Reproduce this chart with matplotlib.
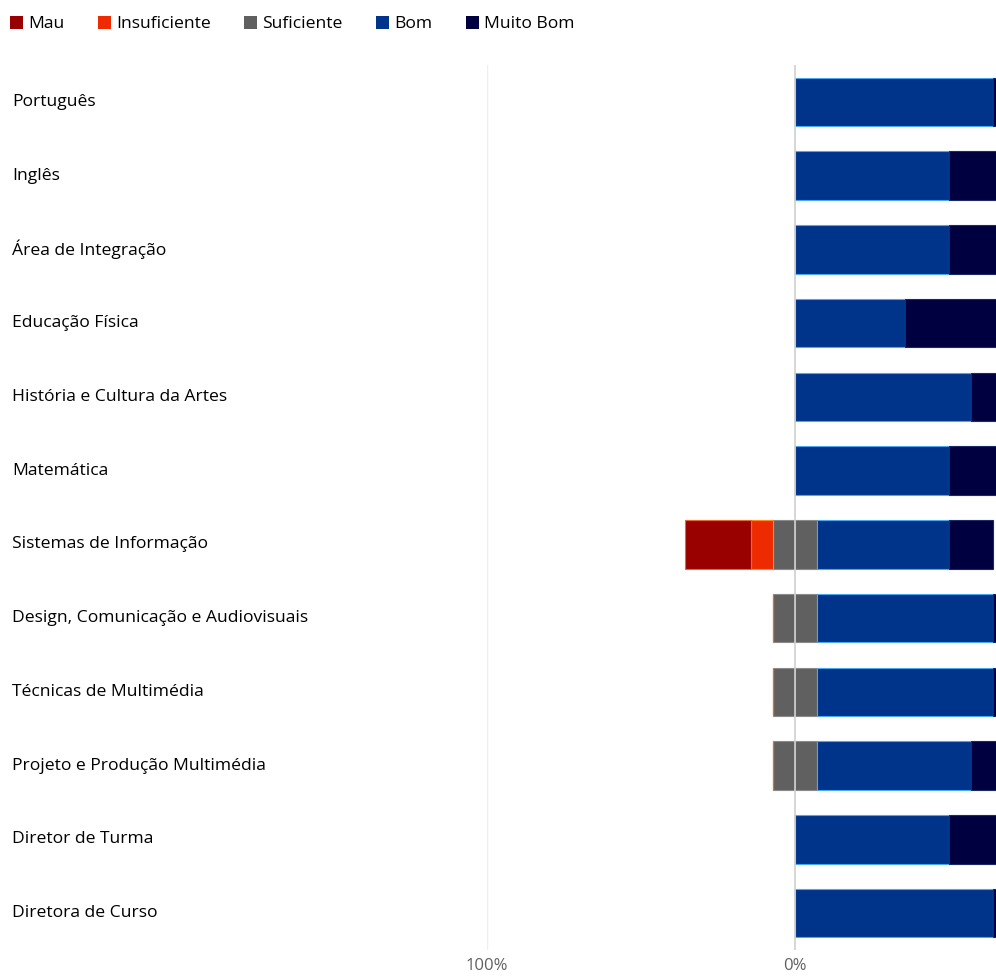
import matplotlib
matplotlib.use("Agg")
import matplotlib.pyplot as plt
from matplotlib.patches import Patch
import matplotlib.transforms as mtransforms
import numpy as np

plt.rcParams['font.family'] = ['Open Sans', 'DejaVu Sans']

disciplinas = [
    "Português", "Inglês", "Área de Integração", "Educação Física",
    "História e Cultura da Artes", "Matemática", "Sistemas de Informação",
    "Design, Comunicação e Audiovisuais", "Técnicas de Multimédia",
    "Projeto e Produção Multimédia", "Diretor de Turma", "Diretora de Curso",
]
# percentagens (turma de 14 alunos)
mau = [0, 0, 0, 0, 0, 0, 21.4, 0, 0, 0, 0, 0]
insuficiente = [0, 0, 0, 0, 0, 0, 7.1, 0, 0, 0, 0, 0]
suficiente = [0, 0, 0, 0, 0, 0, 14.3, 14.3, 14.3, 14.3, 0, 0]
bom = [64.3, 50.0, 50.0, 35.7, 57.1, 50.0, 42.9, 57.1, 57.1, 50.0, 50.0, 64.3]
muito_bom = [35.7, 50.0, 50.0, 64.3, 42.9, 50.0, 14.3, 28.6, 28.6, 35.7, 50.0, 35.7]

cores = {
    "Mau": "#990000",
    "Insuficiente": "#ee2a00",
    "Suficiente": "#606060",
    "Bom": "#00338a",
    "Muito Bom": "#000040",
}
bordas = {
    "Mau": "#e86a2a",
    "Insuficiente": "#ff8a20",
    "Suficiente": "#8a8a8a",
    "Bom": "#4aa8ee",
    "Muito Bom": "#1a2a66",
}

fig = plt.figure(figsize=(9.96, 9.8), dpi=100)
ax = fig.add_axes([487 / 996, 1 - 950 / 980, 1 - 487 / 996, (950 - 65) / 980])

y = np.arange(len(disciplinas))
h = 0.66
mau = np.array(mau)
ins = np.array(insuficiente)
suf = np.array(suficiente)
bom = np.array(bom)
mb = np.array(muito_bom)

ax.axvline(-100, color="#eeeeee", lw=1, zorder=0)

# lado negativo
ax.barh(y, -suf / 2, height=h, color=cores["Suficiente"], edgecolor=bordas["Suficiente"], lw=0.8, zorder=2)
ax.barh(y, -ins, left=-suf / 2, height=h, color=cores["Insuficiente"], edgecolor=bordas["Insuficiente"], lw=0.8, zorder=2)
ax.barh(y, -mau, left=-suf / 2 - ins, height=h, color=cores["Mau"], edgecolor=bordas["Mau"], lw=0.8, zorder=2)
# lado positivo
ax.barh(y, suf / 2, height=h, color=cores["Suficiente"], edgecolor=bordas["Suficiente"], lw=0.8, zorder=2)
ax.barh(y, bom, left=suf / 2, height=h, color=cores["Bom"], edgecolor=bordas["Bom"], lw=0.8, zorder=2)
ax.barh(y, mb, left=suf / 2 + bom, height=h, color=cores["Muito Bom"], edgecolor=bordas["Muito Bom"], lw=0.8, zorder=2)

ax.axvline(0, color="#d0d0d0", lw=1.2, zorder=3)

ax.set_xlim(-100, (996 - 795) / 3.08)
ax.set_ylim(len(disciplinas) - 0.5, -0.5)
ax.set_xticks([-100, 0])
ax.set_xticklabels(["100%", "0%"], color="#606060", fontsize=12)
ax.tick_params(axis="x", length=0, pad=6)
ax.set_yticks([])
for s in ax.spines.values():
    s.set_visible(False)

trans = mtransforms.blended_transform_factory(fig.transFigure, ax.transData)
for i, nome in enumerate(disciplinas):
    ax.text(12 / 996, i, nome, transform=trans, ha="left", va="center",
            fontsize=12.6, color="#000000", clip_on=False)

handles = [Patch(facecolor=c, edgecolor="none", label=k) for k, c in cores.items()]
fig.legend(handles=handles, loc="upper left", bbox_to_anchor=(-0.006, 1.0), ncol=5,
           frameon=False, handlelength=0.75, handleheight=0.75, handletextpad=0.3,
           columnspacing=1.9, fontsize=12.6)

fig.savefig("out.png", dpi=100)
